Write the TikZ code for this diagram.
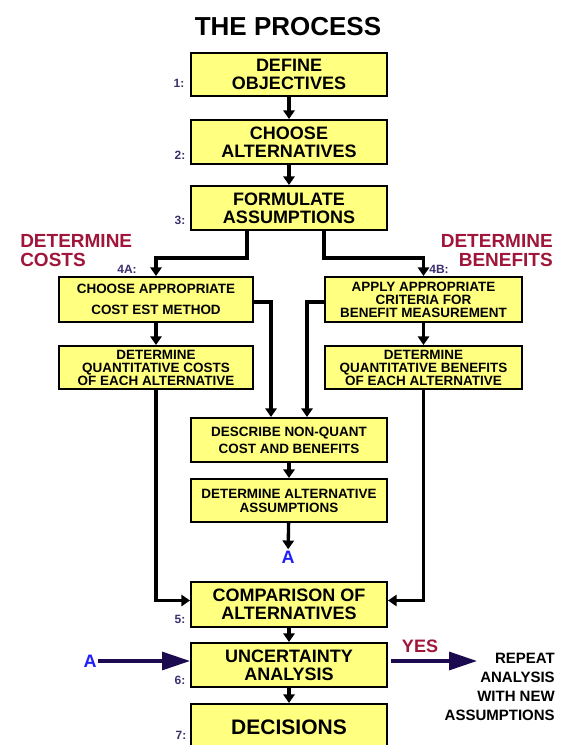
\documentclass[tikz,border=0pt]{standalone}
\usepackage{fontspec}
\setmainfont{Liberation Sans}
\usetikzlibrary{arrows.meta,calc}
\definecolor{boxyellow}{RGB}{255,255,128}
\definecolor{dred}{RGB}{160,22,58}
\definecolor{lblue}{RGB}{61,47,110}
\definecolor{ablue}{RGB}{30,30,255}
\definecolor{navy}{RGB}{27,10,79}
\tikzset{
  bigbox/.style={draw=black, line width=1.5pt, fill=boxyellow, minimum width=147pt, align=center, inner sep=0pt,
    font=\bfseries\fontsize{13.5pt}{13.5pt}\selectfont},
  smallbox/.style={draw=black, line width=1.5pt, fill=boxyellow, minimum width=146pt, align=center, inner sep=0pt,
    font=\bfseries\fontsize{10.1pt}{9.75pt}\selectfont},
  flow/.style={line width=2.5pt, -{Triangle[width=8.5pt,length=6.5pt]}},
  bigarrow/.style={line width=2.4pt, draw=navy, -{Triangle[width=13.5pt,length=21pt]}},
  numlabel/.style={text=lblue, font=\bfseries\fontsize{9pt}{9pt}\selectfont, inner sep=0pt},
  redlabel/.style={text=dred, font=\bfseries\fontsize{14.25pt}{14.25pt}\selectfont, inner sep=0pt},
  alabel/.style={text=ablue, font=\bfseries\fontsize{13.5pt}{13.5pt}\selectfont, inner sep=1pt},
}
\begin{document}
\begin{tikzpicture}[x=0.75pt,y=-0.75pt]
\useasboundingbox (0,0) rectangle (569,745);
\clip (0,0) rectangle (569,745);
% title
\node[font=\bfseries\fontsize{19.5pt}{19.5pt}\selectfont, inner sep=0pt] (title) at (288,27) {THE PROCESS};
% main boxes
\node[bigbox, minimum height=32.25pt] (B1) at (289,74.5) {DEFINE\\OBJECTIVES};
\node[bigbox, minimum height=33pt] (B2) at (289,142) {CHOOSE\\ALTERNATIVES};
\node[bigbox, minimum height=33pt] (B3) at (289,208) {FORMULATE\\ASSUMPTIONS};
\node[smallbox, minimum height=33.75pt, font=\bfseries\fontsize{10.1pt}{15.75pt}\selectfont] (L1) at (156,299.5) {CHOOSE APPROPRIATE\\COST EST METHOD};
\node[smallbox, minimum height=32.25pt] (L2) at (156,367.5) {DETERMINE\\QUANTITATIVE COSTS\\OF EACH ALTERNATIVE};
\node[smallbox, minimum width=147.75pt, minimum height=33.75pt] (R1) at (423.5,299.5) {APPLY APPROPRIATE\\CRITERIA FOR\\BENEFIT MEASUREMENT};
\node[smallbox, minimum width=147.75pt, minimum height=32.25pt] (R2) at (423.5,367.5) {DETERMINE\\QUANTITATIVE BENEFITS\\OF EACH ALTERNATIVE};
\node[smallbox, minimum width=147pt, minimum height=33pt, font=\bfseries\fontsize{10.1pt}{12.75pt}\selectfont] (D1) at (289,440) {DESCRIBE NON-QUANT\\COST AND BENEFITS};
\node[smallbox, minimum width=147pt, minimum height=32.25pt, font=\bfseries\fontsize{10.1pt}{10.5pt}\selectfont] (D2) at (289,500.5) {DETERMINE ALTERNATIVE\\ASSUMPTIONS};
\node[bigbox, minimum height=33.75pt] (C5) at (289,604.5) {COMPARISON OF\\ALTERNATIVES};
\node[bigbox, minimum height=33pt] (U6) at (289,665) {UNCERTAINTY\\ANALYSIS};
\node[bigbox, minimum height=34.5pt, font=\bfseries\fontsize{15.75pt}{15.75pt}\selectfont] (X7) at (289,727) {DECISIONS};
% step labels
\node[numlabel] (n1) at (179,83) {1:};
\node[numlabel] (n2) at (180,155) {2:};
\node[numlabel] (n3) at (180,220) {3:};
\node[numlabel] (n4a) at (127,269) {4A:};
\node[numlabel] (n4b) at (439,269) {4B:};
\node[numlabel] (n5) at (180,619) {5:};
\node[numlabel] (n6) at (180,680) {6:};
\node[numlabel] (n7) at (181,735) {7:};
% red headings
\node[redlabel, anchor=north west, align=left] (costs) at (20,234) {DETERMINE\\COSTS};
\node[redlabel, anchor=north east, align=right] (benefits) at (553,234) {DETERMINE\\BENEFITS};
% A labels
\node[alabel] (A1) at (288,557) {A};
\node[alabel] (A2) at (90,661) {A};
% repeat text
\node[anchor=east, align=right, inner sep=0pt, font=\bfseries\fontsize{11.25pt}{14.25pt}\selectfont] (rep) at (555,686.5) {REPEAT\\ANALYSIS\\WITH NEW\\ASSUMPTIONS};
\node[text=dred, font=\bfseries\fontsize{13.5pt}{13.5pt}\selectfont, inner sep=0pt] (yes) at (420,646) {YES};
\coordinate (yesend) at (477,661);
% connectors
\draw[flow] (B1) -- (B2);
\draw[flow] (B2) -- (B3);
\draw[flow] ($(B3.south)+(-42,0)$) -- ++(0,27) -| (L1.north);
\draw[flow] ($(B3.south)+(35,0)$) -- ++(0,27) -| (R1.north);
\draw[flow] (L1) -- (L2);
\draw[flow] (R1) -- (R2);
\draw[flow] ($(L1.east)+(0,2.5)$) -| ($(D1.north)+(-18,0)$);
\draw[flow] ($(R1.west)+(0,2.5)$) -| ($(D1.north)+(18,0)$);
\draw[flow] (D1) -- (D2);
\draw[flow] (D2) -- (A1);
\draw[flow] (L2.south) |- ($(C5.west)+(0,-4)$);
\draw[flow] (R2.south) |- ($(C5.east)+(0,-4)$);
\draw[flow] (C5) -- (U6);
\draw[flow] (U6) -- (X7);
\draw[bigarrow] (A2.east) -- (U6.west |- A2.east);
\draw[bigarrow] ($(U6.east |- yesend)+(3,0)$) -- (yesend);
\end{tikzpicture}
\end{document}
